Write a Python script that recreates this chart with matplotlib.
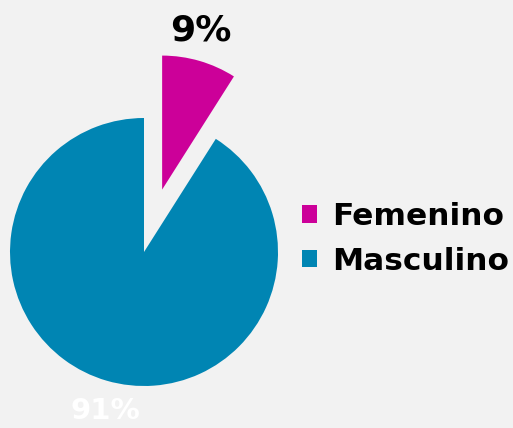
import numpy as np
import matplotlib.pyplot as plt

labels = ["Femenino", "Masculino"]
values = [9, 91]
colors = ["#cc0099", "#0085b3"]
explode = [0.485, 0]
pct_colors = ["black", "white"]
pct_sizes = [26, 21]

radius = 134
fig = plt.figure(figsize=(5.13, 4.28), dpi=100, facecolor="#f2f2f2")
ax = fig.add_axes([0, 0, 1, 1])
ax.set_facecolor("#f2f2f2")

# explode is in data units here, so scale by the radius
wedges, texts, autotexts = ax.pie(
    values, colors=colors, explode=[e * radius for e in explode],
    startangle=90, counterclock=False,
    center=(144, 176), radius=radius, autopct="%1.0f%%", pctdistance=1.22,
    textprops=dict(fontweight="bold"),
)
for w, t, c, s in zip(wedges, autotexts, pct_colors, pct_sizes):
    mid = np.deg2rad((w.theta1 + w.theta2) / 2 + 2.6)
    cx, cy = w.center
    t.set_position((cx + 1.22 * radius * np.cos(mid), cy + 1.22 * radius * np.sin(mid)))
    t.set_color(c)
    t.set_fontsize(s)

ax.set_xlim(0, 513)
ax.set_ylim(0, 428)
ax.set_aspect("equal")
ax.axis("off")

leg = ax.legend(
    wedges, labels, loc="center left", bbox_to_anchor=(302 / 513, 189 / 428),
    bbox_transform=fig.transFigure, frameon=False, borderpad=0, borderaxespad=0,
    handlelength=0.47, handleheight=0.47, handletextpad=0.5, labelspacing=0.5,
    prop=dict(size=22.5, weight="bold"),
)

fig.savefig("out.png", dpi=100, facecolor=fig.get_facecolor())
